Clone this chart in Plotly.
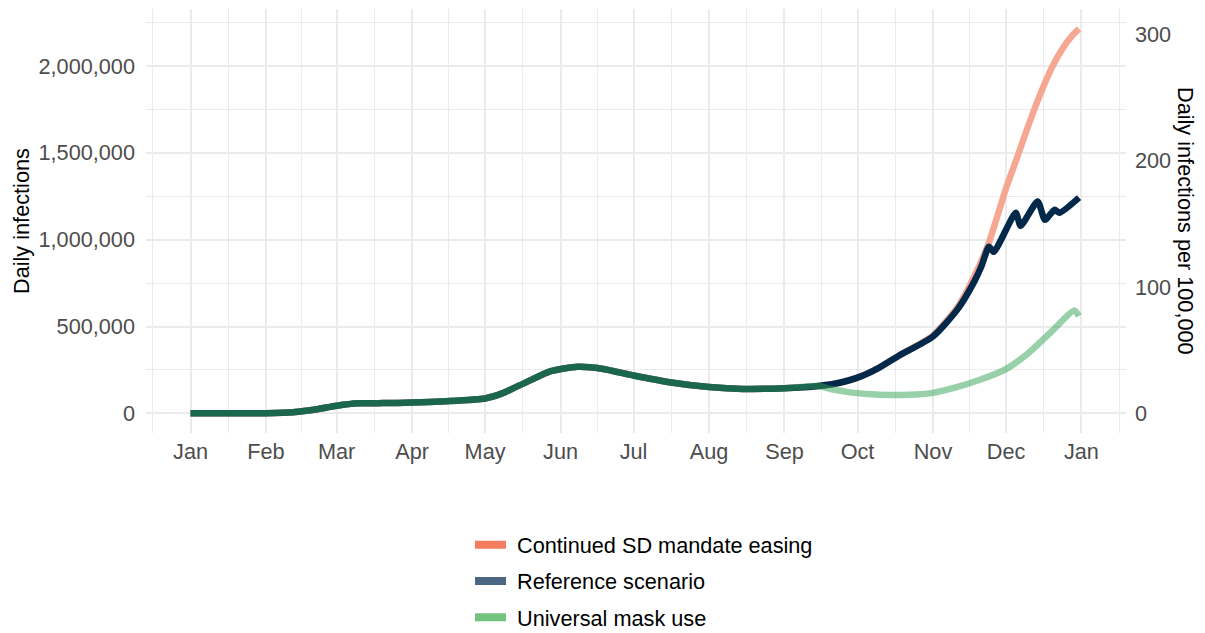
import pandas as pd
import plotly.graph_objects as go

# Daily infections shared by every scenario up to mid-September
shared_dates = ["2020-01-01", "2020-01-15", "2020-02-01", "2020-02-12", "2020-02-22",
                "2020-03-01", "2020-03-10", "2020-03-20", "2020-04-01", "2020-04-15",
                "2020-05-01", "2020-05-08", "2020-05-18", "2020-05-28", "2020-06-08",
                "2020-06-18", "2020-07-01", "2020-07-15", "2020-08-01", "2020-08-15",
                "2020-09-01", "2020-09-15"]
shared_values = [0, 0, 1000, 7000, 24000,
                 44000, 58000, 59000, 62000, 70000,
                 86000, 115000, 180000, 243000, 268000,
                 257000, 218000, 181000, 152000, 141000,
                 145000, 158000]

# Scenario: continued social-distancing mandate easing
sd_dates = ["2020-09-22", "2020-10-01", "2020-10-10", "2020-10-18", "2020-11-01",
            "2020-11-11", "2020-11-18", "2020-11-24", "2020-12-01", "2020-12-05",
            "2020-12-10", "2020-12-15", "2020-12-20", "2020-12-24", "2020-12-28",
            "2020-12-31"]
sd_values = [172000, 206000, 265000, 333000, 449000,
             610000, 790000, 985000, 1295000, 1450000,
             1650000, 1835000, 1995000, 2095000, 2172000,
             2213000]

# Scenario: reference
ref_dates = ["2020-09-22", "2020-10-01", "2020-10-10", "2020-10-18", "2020-11-01",
             "2020-11-11", "2020-11-18", "2020-11-21", "2020-11-24", "2020-11-26",
             "2020-12-05", "2020-12-07", "2020-12-14", "2020-12-17", "2020-12-21",
             "2020-12-23", "2020-12-31"]
ref_values = [172000, 206000, 264000, 332000, 443000,
              597000, 760000, 850000, 960000, 930000,
              1155000, 1080000, 1220000, 1115000, 1172000,
              1155000, 1242000]

# Scenario: universal mask use
mask_dates = ["2020-09-20", "2020-09-28", "2020-10-05", "2020-10-15", "2020-10-25",
              "2020-11-01", "2020-11-10", "2020-11-20", "2020-12-01", "2020-12-10",
              "2020-12-20", "2020-12-29", "2020-12-31"]
mask_values = [140000, 121000, 112000, 106000, 108000,
               118000, 148000, 192000, 255000, 345000,
               475000, 592000, 560000]

scenario_names = ["Continued SD mandate easing", "Reference scenario", "Universal mask use"]
line_colors = ["rgb(246,167,146)", "rgb(3,41,74)", "rgba(49,163,84,0.5)"]
key_colors = ["#F47D5F", "#4B6784", "#74C27F"]

month_ticks = pd.date_range("2020-01-01", "2021-01-01", freq="MS")
month_labels = [d.strftime("%b") for d in month_ticks]
left_ticks = [0, 500000, 1000000, 1500000, 2000000]
right_ticks = [0, 100, 200, 300]

per_100k = 7280  # daily infections corresponding to 1 per 100,000

series = [
    (shared_dates + sd_dates, shared_values + sd_values),
    (shared_dates + ref_dates, shared_values + ref_values),
    (shared_dates + mask_dates, shared_values + mask_values),
]

fig = go.Figure()
for (dates, vals), name, color in zip(series, scenario_names, line_colors):
    fig.add_trace(go.Scatter(
        x=pd.to_datetime(dates), y=vals, mode="lines", name=name,
        line=dict(color=color, width=6.5, shape="spline", smoothing=0.6),
        showlegend=False, hoverinfo="x+y+name"))

# Same continued-easing series expressed per 100,000 on the secondary axis
fig.add_trace(go.Scatter(
    x=pd.to_datetime(series[0][0]), y=[v / per_100k for v in series[0][1]],
    yaxis="y2", mode="lines", line=dict(width=0, color="rgba(0,0,0,0)"),
    showlegend=False, hoverinfo="skip"))

# Legend entries (a no-break space keeps a gap between key and label)
for i, (name, color) in enumerate(zip(scenario_names, key_colors)):
    fig.add_trace(go.Scatter(
        x=[None], y=[None], mode="lines", name="\u00a0" + name,
        line=dict(color=color, width=8), legendgroup=f"g{i}", showlegend=True))

grid = "#EBEBEB"
x0 = pd.Timestamp("2020-01-01") - pd.Timedelta(days=18.3)
x1 = pd.Timestamp("2021-01-01") + pd.Timedelta(days=18.3)
minor_x = [a + (b - a) / 2 for a, b in zip(
    [pd.Timestamp("2019-12-01")] + list(month_ticks),
    list(month_ticks) + [pd.Timestamp("2021-02-01")])]

y_lo, y_hi = -113000, 2328000
fs = 21.7

fig.update_layout(
    width=1205, height=633,
    margin=dict(l=146, r=79, t=9, b=200, autoexpand=False),
    plot_bgcolor="white", paper_bgcolor="white",
    font=dict(family="Liberation Sans, Arial, sans-serif", size=fs, color="#4D4D4D"),
    xaxis=dict(
        type="date", range=[x0, x1],
        tickmode="array", tickvals=month_ticks, ticktext=month_labels,
        showgrid=True, gridcolor=grid, gridwidth=1.5,
        minor=dict(tickmode="array", tickvals=minor_x, showgrid=True,
                   gridcolor=grid, gridwidth=0.8),
        zeroline=False, showline=False, ticks="", ticklabelstandoff=3,
    ),
    yaxis=dict(
        range=[y_lo, y_hi], tickmode="array", tickvals=left_ticks,
        tickformat=",d",
        showgrid=True, gridcolor=grid, gridwidth=1.5,
        minor=dict(tickmode="array",
                   tickvals=[250000, 750000, 1250000, 1750000, 2250000],
                   showgrid=True, gridcolor=grid, gridwidth=0.8),
        zeroline=False, showline=False, ticks="", ticklabelstandoff=10,
    ),
    yaxis2=dict(
        overlaying="y", side="right",
        range=[y_lo / per_100k, y_hi / per_100k],
        tickmode="array", tickvals=right_ticks,
        showgrid=False, zeroline=False, showline=False, ticks="",
        ticklabelstandoff=8,
    ),
    legend=dict(
        orientation="v", x=(470 - 146) / 980, xanchor="left", y=-0.215, yanchor="top",
        font=dict(color="black", size=fs), traceorder="grouped",
        tracegroupgap=5, itemwidth=31, bgcolor="rgba(0,0,0,0)",
    ),
    annotations=[
        dict(text="Daily infections", xref="paper", yref="paper",
             x=(21 - 146) / 980, y=0.5, xanchor="center", yanchor="middle",
             textangle=-90, showarrow=False, font=dict(color="black", size=fs)),
        dict(text="Daily infections per 100,000", xref="paper", yref="paper",
             x=(1186 - 146) / 980, y=0.5, xanchor="center", yanchor="middle",
             textangle=90, showarrow=False, font=dict(color="black", size=fs)),
    ],
)

fig.write_html("out.html")
